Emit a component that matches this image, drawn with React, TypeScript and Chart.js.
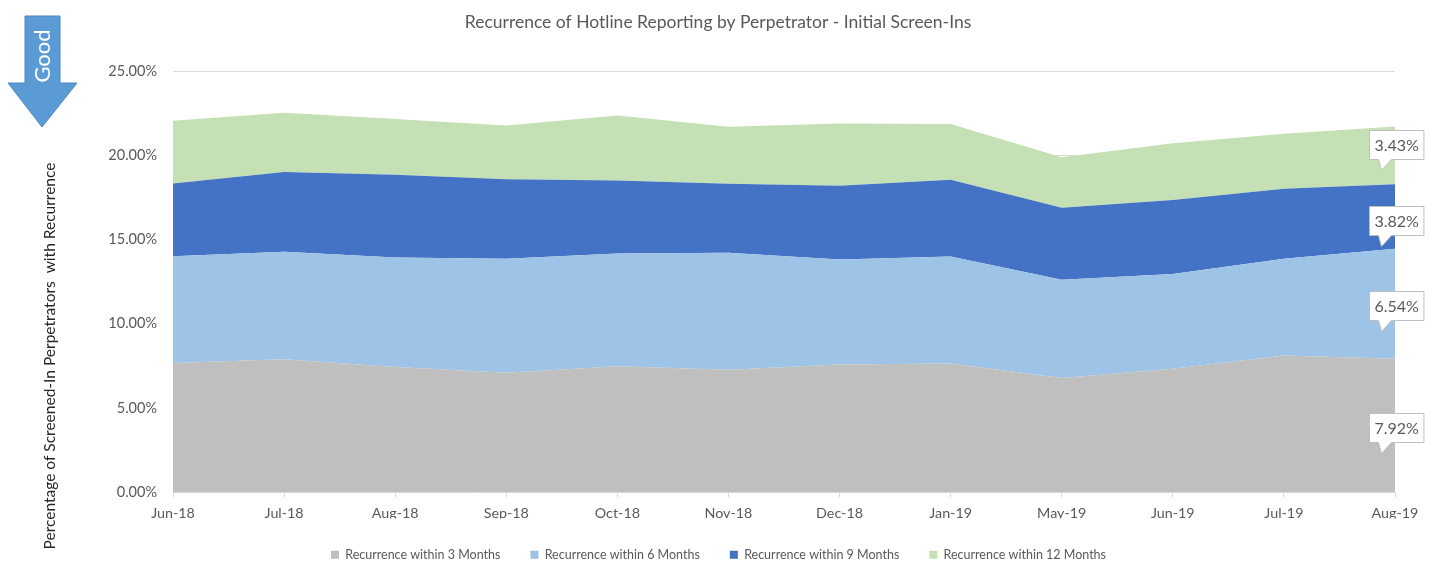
import React, { useEffect, useRef } from "react";
import { Chart, registerables } from "chart.js";

Chart.register(...registerables);

const chartTitle = "Recurrence of Hotline Reporting by Perpetrator - Initial Screen-Ins";
const yAxisTitle = "Percentage of Screened-In Perpetrators  with Recurrence";
const arrowText = "Good";

const categories = ["Jun-18", "Jul-18", "Aug-18", "Sep-18", "Oct-18", "Nov-18", "Dec-18", "Jan-19", "May-19", "Jun-19", "Jul-19", "Aug-19"];
const seriesNames = ["Recurrence within 3 Months", "Recurrence within 6 Months", "Recurrence within 9 Months", "Recurrence within 12 Months"];
const within3 = [7.68, 7.9, 7.44, 7.09, 7.48, 7.28, 7.58, 7.64, 6.79, 7.34, 8.12, 7.92];
const within6 = [6.33, 6.37, 6.5, 6.77, 6.69, 6.93, 6.24, 6.35, 5.82, 5.61, 5.74, 6.54];
const within9 = [4.32, 4.73, 4.9, 4.71, 4.34, 4.1, 4.37, 4.56, 4.27, 4.39, 4.15, 3.82];
const within12 = [3.72, 3.52, 3.31, 3.2, 3.85, 3.38, 3.7, 3.3, 3.0, 3.37, 3.27, 3.43];
const yMin = 0;
const yMax = 25;
const yStep = 5;

const colors = ["#bfbfbf", "#9dc3e6", "#4472c4", "#c5e0b4"];
const labelShift = [2, 2, 4, -11];
const FONT = "Lato, 'Open Sans', 'Noto Sans', sans-serif";
const TEXT = "#595959";

const overlayPlugin = {
  id: "overlay",
  afterDatasetsDraw(chart: any) {
    const ctx = chart.ctx;
    const n = chart.data.datasets.length;
    ctx.save();
    ctx.font = `16px ${FONT}`;
    for (let d = 0; d < n; d++) {
      const meta = chart.getDatasetMeta(d);
      const i = meta.data.length - 1;
      const pt = meta.data[i];
      const base = d === 0 ? chart.scales.y.getPixelForValue(0) : chart.getDatasetMeta(d - 1).data[i].y;
      const mid = (pt.y + base) / 2;
      const val = chart.data.datasets[d].data[i];
      const txt = val.toFixed(2) + "%";
      const tw = ctx.measureText(txt).width;
      const bw = tw + 10;
      const bh = 29;
      const cx = pt.x + 1;
      const cy = mid + labelShift[d];
      const left = Math.round(cx - bw / 2) + 0.5;
      const top = Math.round(cy - bh / 2) + 0.5;
      ctx.beginPath();
      ctx.moveTo(left, top);
      ctx.lineTo(left + bw, top);
      ctx.lineTo(left + bw, top + bh);
      ctx.lineTo(left + 22, top + bh);
      ctx.lineTo(left + 12, top + bh + 11);
      ctx.lineTo(left + 9, top + bh);
      ctx.lineTo(left, top + bh);
      ctx.closePath();
      ctx.fillStyle = "#ffffff";
      ctx.fill();
      ctx.strokeStyle = "#bfbfbf";
      ctx.lineWidth = 1;
      ctx.stroke();
      ctx.fillStyle = TEXT;
      ctx.textAlign = "center";
      ctx.textBaseline = "middle";
      ctx.fillText(txt, left + bw / 2, top + bh / 2 + 1);
    }
    ctx.restore();
  },
  afterDraw(chart: any) {
    const ctx = chart.ctx;
    ctx.save();
    ctx.fillStyle = TEXT;
    ctx.font = `17.5px ${FONT}`;
    ctx.textAlign = "center";
    ctx.textBaseline = "middle";
    ctx.fillText(chartTitle, 718, 22);
    ctx.save();
    ctx.translate(50, 356);
    ctx.rotate(-Math.PI / 2);
    ctx.fillStyle = "#262626";
    ctx.font = `15.5px ${FONT}`;
    ctx.fillText(yAxisTitle, 0, 0);
    ctx.restore();
    ctx.beginPath();
    ctx.moveTo(25, 16);
    ctx.lineTo(60, 16);
    ctx.lineTo(60, 83);
    ctx.lineTo(77, 83);
    ctx.lineTo(42, 127);
    ctx.lineTo(8, 83);
    ctx.lineTo(25, 83);
    ctx.closePath();
    ctx.fillStyle = "#5b9bd5";
    ctx.fill();
    ctx.strokeStyle = "#4a87c0";
    ctx.lineWidth = 1;
    ctx.stroke();
    ctx.save();
    ctx.translate(43, 56);
    ctx.rotate(-Math.PI / 2);
    ctx.fillStyle = "#ffffff";
    ctx.font = `22px ${FONT}`;
    ctx.textAlign = "center";
    ctx.textBaseline = "middle";
    ctx.fillText(arrowText, 0, 0);
    ctx.restore();
    ctx.restore();
  },
};

export default function App() {
  const ref = useRef<HTMLCanvasElement>(null);
  useEffect(() => {
    if (!ref.current) return;
    const series = [within3, within6, within9, within12];
    const chart = new Chart(ref.current, {
      type: "line",
      data: {
        labels: categories,
        datasets: series.map((s, k) => ({
          label: seriesNames[k],
          data: s,
          backgroundColor: colors[k],
          borderColor: colors[k],
          borderWidth: 0,
          pointRadius: 0,
          fill: k === 0 ? "origin" : "-1",
          tension: 0,
        })),
      },
      options: {
        animation: false,
        responsive: false,
        layout: { padding: { left: 0, right: 0, top: 71, bottom: 0 } },
        plugins: {
          title: { display: false },
          tooltip: { enabled: false },
          legend: {
            position: "bottom",
            labels: {
              boxWidth: 8,
              boxHeight: 8,
              padding: 30,
              color: TEXT,
              font: { family: FONT, size: 12.5 },
            },
          },
        },
        scales: {
          x: {
            offset: false,
            afterFit: (s: any) => {
              s.height = s.height - 10;
            },
            grid: { drawOnChartArea: false, drawTicks: true, tickLength: 5, color: "#d9d9d9" },
            border: { color: "#d9d9d9" },
            ticks: { color: TEXT, font: { family: FONT, size: 14.3 }, padding: 7, maxRotation: 0, autoSkip: false },
          },
          y: {
            stacked: true,
            min: yMin,
            max: yMax,
            afterFit: (s: any) => {
              s.width = 173;
            },
            grid: { color: "#d9d9d9", drawTicks: false },
            border: { display: false },
            ticks: {
              stepSize: yStep,
              color: TEXT,
              padding: 16,
              font: { family: FONT, size: 14.5 },
              callback: (v: any) => Number(v).toFixed(2) + "%",
            },
          },
          yRight: {
            position: "right",
            min: yMin,
            max: yMax,
            afterFit: (s: any) => {
              s.width = 42;
            },
            grid: { display: false, drawOnChartArea: false },
            border: { display: false },
            ticks: { display: false },
          },
        },
      },
      plugins: [overlayPlugin],
    });
    return () => chart.destroy();
  }, []);
  return (
    <div style={{ position: "absolute", left: 0, top: 0, width: 1437, height: 571, background: "#fff" }}>
      <canvas ref={ref} width={1437} height={571} />
    </div>
  );
}
